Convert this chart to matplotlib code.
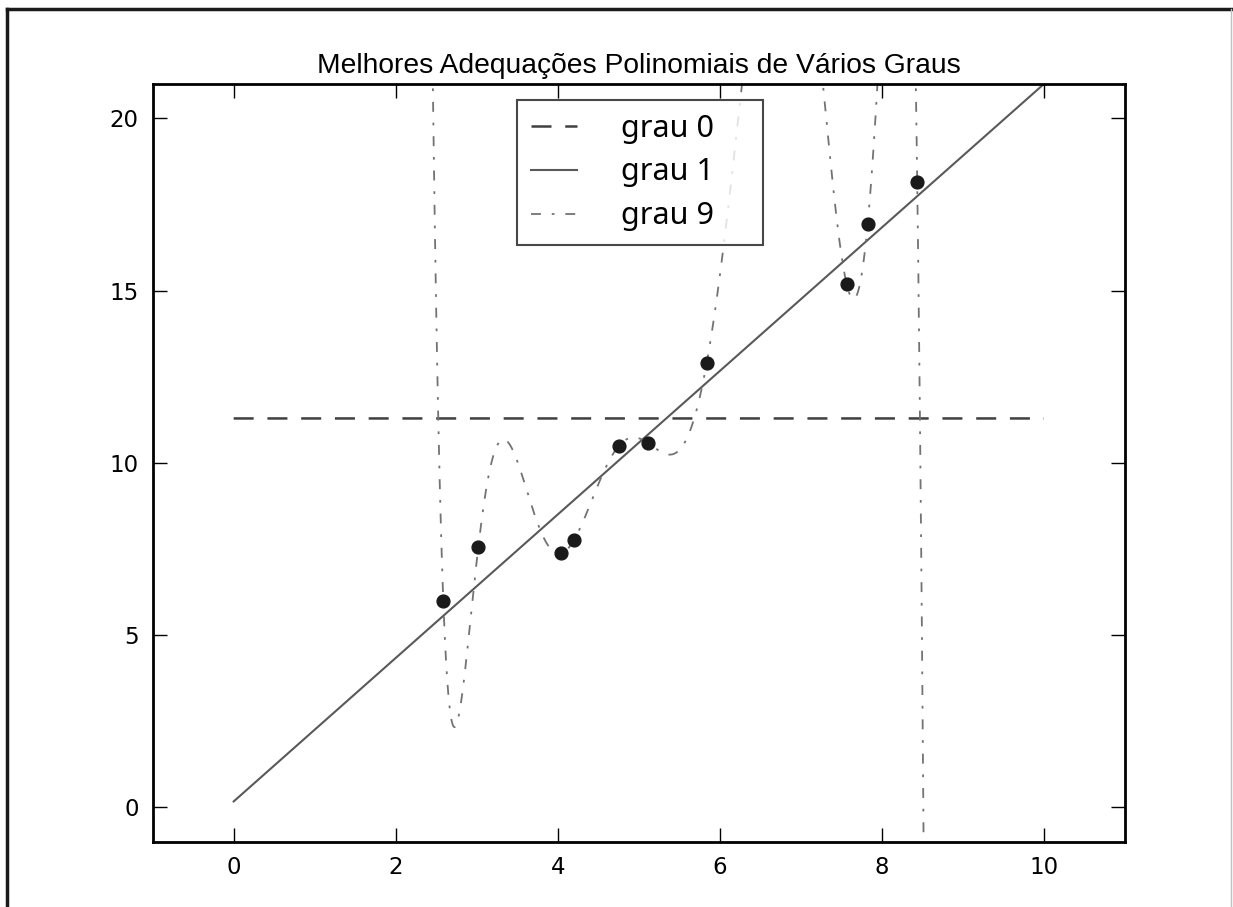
import numpy as np
import matplotlib
matplotlib.use("Agg")
import matplotlib.pyplot as plt
from matplotlib.lines import Line2D

# pontos
xs = [2.587, 3.019, 4.039, 4.200, 4.756, 5.117, 5.837, 7.565, 7.824, 8.436]
ys = [5.99, 7.55, 7.37, 7.76, 10.50, 10.57, 12.89, 15.19, 16.93, 18.14]
graus = [0, 1, 9]
cores = ['0.25', '0.35', '0.45']
x_ticks = [0, 2, 4, 6, 8, 10]
y_ticks = [0, 5, 10, 15, 20]
titulo = "Melhores Adequações Polinomiais de Vários Graus"

fig = plt.figure(figsize=(12.33, 9.07), dpi=100)
ax = fig.add_axes([0.1238, 0.072, 0.7886, 0.8354])

ax.scatter(xs, ys, s=85, color='0.1', zorder=5)

# estilo de cada ajuste: (largura, padrão de traços)
estilos = {0: (1.8, (8, 5.5)), 1: (1.5, None), 9: (1.3, (5.5, 6, 1.5, 6))}

xx = np.linspace(0, 10, 2000)
for grau, c in zip(graus, cores):
    coefs = np.polyfit(xs, ys, grau)
    lw, dash = estilos[grau]
    ln, = ax.plot(xx, np.polyval(coefs, xx), color=c, lw=lw,
                  label='grau %d' % grau)
    if dash is not None:
        ln.set_dashes(dash)

ax.set_xlim(-1, 11)
ax.set_ylim(-1, 21)
ax.set_xticks(x_ticks)
ax.set_yticks(y_ticks)
ax.tick_params(direction='in', length=10, width=1, top=True, right=True,
               labelsize=16.5, pad=10)
for sp in ax.spines.values():
    sp.set_linewidth(2)

ax.set_title(titulo, fontsize=20.3, pad=8,
             family=['Liberation Sans', 'DejaVu Sans'])

leg = ax.legend(loc='upper left', bbox_to_anchor=(0.3747, 0.9789, 0.253, 0.0),
                mode='expand',
                prop={'family': ['Noto Sans', 'DejaVu Sans'], 'size': 22},
                frameon=True, fancybox=False, edgecolor='0.1',
                handlelength=1.5, handletextpad=1.45, borderpad=0.45,
                labelspacing=0.45, borderaxespad=0)
leg.get_frame().set_linewidth(1.5)

# moldura da figura
fig.add_artist(Line2D([0.006, 0.006], [0, 0.99], color='0.1', lw=2.5))
fig.add_artist(Line2D([0.006, 1.0], [0.99, 0.99], color='0.1', lw=2.5))
fig.add_artist(Line2D([0.998, 0.998], [0, 0.99], color='0.75', lw=1))

fig.savefig('out.png', dpi=100)
